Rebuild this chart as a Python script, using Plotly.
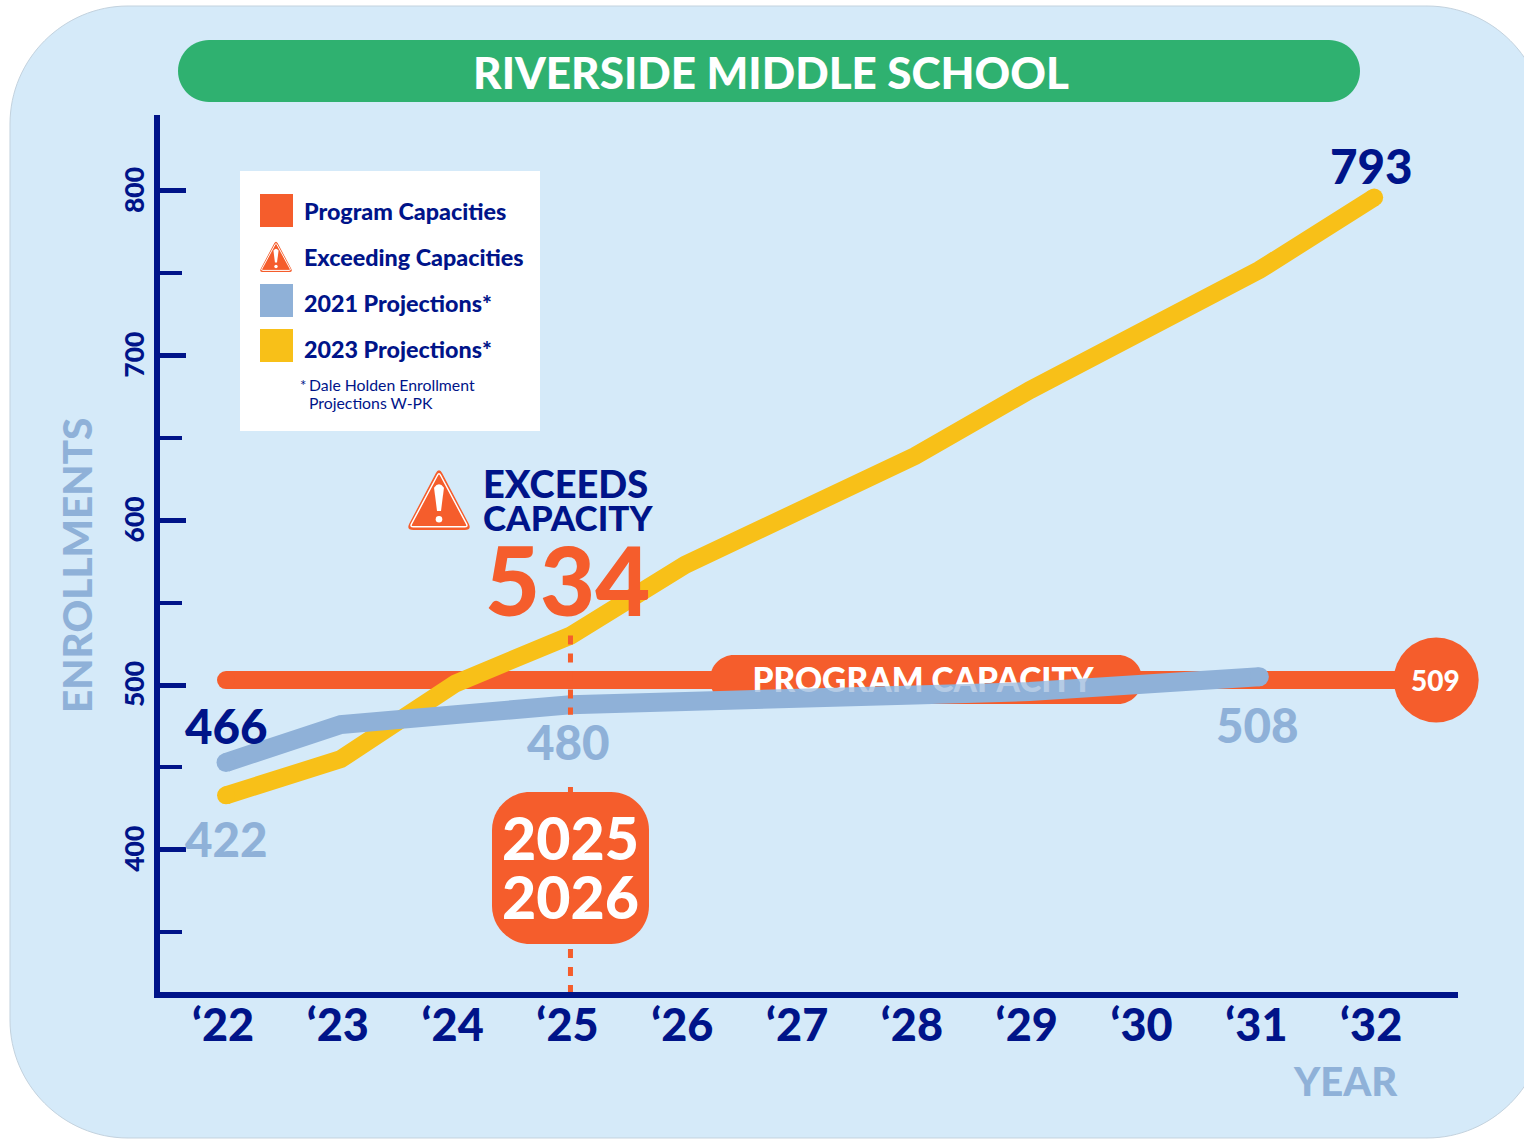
import plotly.graph_objects as go

W, H = 1524, 1139
FONT = "Lato"
NAVY = "#001489"
ORANGE = "#F55D2C"
BLUE = "#8FB1D8"
YELLOW = "#F8C018"
GREEN = "#2FB170"
PANEL = "#D5EAF9"

# ---- data ----
years = [2022, 2023, 2024, 2025, 2026, 2027, 2028, 2029, 2030, 2031, 2032]
year_labels = ["‘22", "‘23", "‘24", "‘25", "‘26", "‘27", "‘28", "‘29", "‘30", "‘31", "‘32"]
proj_2023 = [433, 455, 501, 530, 573, 606, 639, 679, 714, 752, 796]
years_2021 = [2022, 2023, 2024, 2025, 2026, 2027, 2028, 2029, 2030, 2031]
proj_2021 = [453, 476, 482, 488, 490, 493, 494, 496, 501, 505]
capacity_x = [2022, 2032.54]
capacity_y = [503, 503]
capacity_label = "509"
exceed_year = 2025
exceed_upper = [530, 482]
exceed_lower = [438, 312]
legend_items = ["Program Capacities", "Exceeding Capacities", "2021 Projections*", "2023 Projections*"]
y_major = [400, 500, 600, 700, 800]

# ---- helpers (pixel -> paper) ----
def px(x): return x / W
def py(y): return 1 - y / H
def pt(x, y): return f"{px(x):.5f},{py(y):.5f}"

def rrect_path(x0, y0, x1, y1, r):
    k = 0.45 * r
    return (f"M{pt(x0+r,y0)} L{pt(x1-r,y0)} C{pt(x1-k,y0)} {pt(x1,y0+k)} {pt(x1,y0+r)} "
            f"L{pt(x1,y1-r)} C{pt(x1,y1-k)} {pt(x1-k,y1)} {pt(x1-r,y1)} "
            f"L{pt(x0+r,y1)} C{pt(x0+k,y1)} {pt(x0,y1-k)} {pt(x0,y1-r)} "
            f"L{pt(x0,y0+r)} C{pt(x0,y0+k)} {pt(x0+k,y0)} {pt(x0+r,y0)} Z")

def rrect(x0, y0, x1, y1, r, fill, layer="below", line=None):
    return dict(type="path", xref="paper", yref="paper", layer=layer, path=rrect_path(x0, y0, x1, y1, r),
                fillcolor=fill, line=dict(width=1 if line else 0, color=line or fill))

def tri_path(x0, y0, x1, y1, r):
    cx = (x0 + x1) / 2
    pts = [(cx, y0), (x1, y1), (x0, y1)]
    out = ""
    n = 3
    for i in range(n):
        p = pts[i]; a = pts[i - 1]; b = pts[(i + 1) % n]
        def toward(p, q, d):
            L = ((q[0]-p[0])**2 + (q[1]-p[1])**2) ** 0.5
            return (p[0] + (q[0]-p[0]) * d / L, p[1] + (q[1]-p[1]) * d / L)
        s = toward(p, a, r); e = toward(p, b, r)
        out += ("M" if i == 0 else "L") + pt(*s) + " Q" + pt(*p) + " " + pt(*e) + " "
    return out + "Z"

def warning_icon(x0, y0, x1, y1):
    w = x1 - x0; h = y1 - y0; cx = (x0 + x1) / 2
    sh = []
    sh.append(dict(type="path", xref="paper", yref="paper", layer="above", path=tri_path(x0, y0, x1, y1, w*0.11),
                   fillcolor=ORANGE, line=dict(width=0)))
    sh.append(dict(type="path", xref="paper", yref="paper", layer="above",
                   path=tri_path(x0 + w*0.06, y0 + h*0.085, x1 - w*0.06, y1 - h*0.05, w*0.05),
                   fillcolor="rgba(0,0,0,0)", line=dict(width=max(1, w/45), color="white")))
    bar = (f"M{pt(cx-w*0.075,y0+h*0.33)} Q{pt(cx,y0+h*0.22)} {pt(cx+w*0.075,y0+h*0.33)} "
           f"L{pt(cx+w*0.03,y0+h*0.70)} L{pt(cx-w*0.03,y0+h*0.70)} Z")
    sh.append(dict(type="path", xref="paper", yref="paper", layer="above", path=bar, fillcolor="white", line=dict(width=0)))
    r = w * 0.05
    sh.append(dict(type="circle", xref="paper", yref="paper", layer="above",
                   x0=px(cx-r), x1=px(cx+r), y0=py(y0+h*0.83+r), y1=py(y0+h*0.83-r),
                   fillcolor="white", line=dict(width=0)))
    return sh

def text(s, x, y, size, color=NAVY, weight=900, anchor="center", angle=0):
    return dict(text=s, x=px(x), y=py(y), xref="paper", yref="paper", showarrow=False, xanchor=anchor, yanchor="middle",
                textangle=angle, font=dict(family=FONT, size=size, color=color, weight=weight))

# ---- traces ----
def caps(n, w):
    return [w] + [0] * (n - 2) + [w]

fig = go.Figure()
fig.add_trace(go.Scatter(x=capacity_x, y=capacity_y, mode="lines+markers", line=dict(color=ORANGE, width=18), cliponaxis=False,
                         marker=dict(size=[18, 85], color=ORANGE, opacity=1, line=dict(width=0)), hoverinfo="skip"))
pill_x = [(923 - 226) / 114.8 + 2022]
pill_y = [capacity_y[0] - 2.0]
fig.add_trace(go.Scatter(x=pill_x, y=pill_y, mode="text", text=["PROGRAM CAPACITY"],
                         textposition="middle center", textfont=dict(family=FONT, size=33.5, color="white", weight=900)))
fig.add_trace(go.Scatter(x=years, y=proj_2023, mode="lines+markers", line=dict(color=YELLOW, width=18), cliponaxis=False,
                         marker=dict(size=caps(len(years), 18), color=YELLOW, opacity=1, line=dict(width=0))))
fig.add_trace(go.Scatter(x=years_2021, y=proj_2021, mode="lines+markers", line=dict(color=BLUE, width=19), cliponaxis=False,
                         marker=dict(size=caps(len(years_2021), 19), color=BLUE, opacity=1, line=dict(width=0))))
fig.add_trace(go.Scatter(x=pill_x, y=pill_y, mode="text", text=["PROGRAM CAPACITY"],
                         textposition="middle center", textfont=dict(family=FONT, size=33.5, color="rgba(255,255,255,0.35)", weight=900)))
fig.add_trace(go.Scatter(x=[exceed_year, exceed_year, None, exceed_year, exceed_year],
                         y=exceed_upper + [None] + exceed_lower, mode="lines",
                         line=dict(color=ORANGE, width=5, dash="9px,9px")))

# ---- shapes ----
shapes = [
    dict(type="path", xref="paper", yref="paper", layer="below", path=rrect_path(10, 6, 1545, 1138, 118),
         fillcolor=PANEL, line=dict(width=1, color="#C3D2DE")),
    rrect(178, 40, 1360, 102, 31, GREEN),
    rrect(710, 655, 1142, 704, 24, ORANGE),
    dict(type="rect", xref="paper", yref="paper", layer="below", x0=px(240), x1=px(540), y0=py(431), y1=py(171),
         fillcolor="white", line=dict(width=0)),
    dict(type="rect", xref="paper", yref="paper", layer="below", x0=px(260), x1=px(293), y0=py(227), y1=py(194),
         fillcolor=ORANGE, line=dict(width=0)),
    dict(type="rect", xref="paper", yref="paper", layer="below", x0=px(260), x1=px(293), y0=py(317), y1=py(284),
         fillcolor=BLUE, line=dict(width=0)),
    dict(type="rect", xref="paper", yref="paper", layer="below", x0=px(260), x1=px(293), y0=py(362), y1=py(329),
         fillcolor=YELLOW, line=dict(width=0)),
    rrect(492, 792, 649, 944, 38, ORANGE, layer="above"),
]
shapes += warning_icon(259, 240, 293, 272)
shapes += warning_icon(406, 467, 472, 530)

# ---- text ----
annotations = [
    text("ENROLLMENTS", 76, 566, 40.5, BLUE, angle=-90),
    text("YEAR", 1345, 1081, 40, BLUE),
    text("466", 226, 725, 47.5),
    text("422", 226, 838, 47.5, BLUE),
    text("480", 568, 741, 47.5, BLUE),
    text("508", 1257, 724, 47.5, BLUE),
    text("793", 1371, 165.5, 47.5),
    text(capacity_label, 1435, 680, 28, "white"),
    text("EXCEEDS", 481, 483, 38, anchor="left"),
    text("CAPACITY", 481, 517, 35, anchor="left"),
    text("534", 567, 579, 95, ORANGE),
    text("2025", 570, 837, 59, "white"),
    text("2026", 570, 896, 59, "white"),
    text("*", 298, 385, 15, weight=400, anchor="left"),
    text("Dale Holden Enrollment", 307, 384, 15.8, weight=400, anchor="left"),
    text("Projections W-PK", 307, 402, 15.8, weight=400, anchor="left"),
]
for label, yy in zip(legend_items, [211, 257, 303, 349]):
    annotations.append(text(label, 302, yy, 23.3, anchor="left"))

fig.update_layout(
    width=W, height=H, autosize=False, showlegend=False,
    margin=dict(l=0, r=0, t=0, b=0, pad=0),
    paper_bgcolor="white", plot_bgcolor="rgba(0,0,0,0)",
    title=dict(text="RIVERSIDE MIDDLE SCHOOL", x=771 / W, y=1 - 74 / H, xanchor="center", yanchor="middle",
               xref="paper", yref="paper", font=dict(family=FONT, size=44, color="white", weight=900)),
    shapes=shapes, annotations=annotations,
    xaxis=dict(domain=[160 / W, 1458 / W], range=[2021.425, 2032.73], tickmode="array", tickvals=years,
               ticktext=year_labels, showgrid=False, zeroline=False, showline=True, linecolor=NAVY, linewidth=6,
               ticks="", ticklabelstandoff=-11, ticklabelshift=-3,
               tickfont=dict(family=FONT, size=45, color=NAVY, weight=900)),
    yaxis=dict(domain=[1 - 992 / H, 1 - 115 / H], range=[313.6, 846.1], tickmode="array", tickvals=y_major,
               showgrid=False, zeroline=False, showline=True, linecolor=NAVY, linewidth=6,
               ticks="inside", ticklen=26, tickwidth=5, tickcolor=NAVY, tickangle=-90,
               minor=dict(ticks="inside", ticklen=22, tickwidth=4, tickcolor=NAVY, tick0=350, dtick=100, showgrid=False),
               ticklabelstandoff=-1, ticklabelshift=3,
               tickfont=dict(family=FONT, size=26.5, color=NAVY, weight=900)),
)

fig.write_html("out.html", post_script="document.body.style.margin='0';", config={"displayModeBar": False})
